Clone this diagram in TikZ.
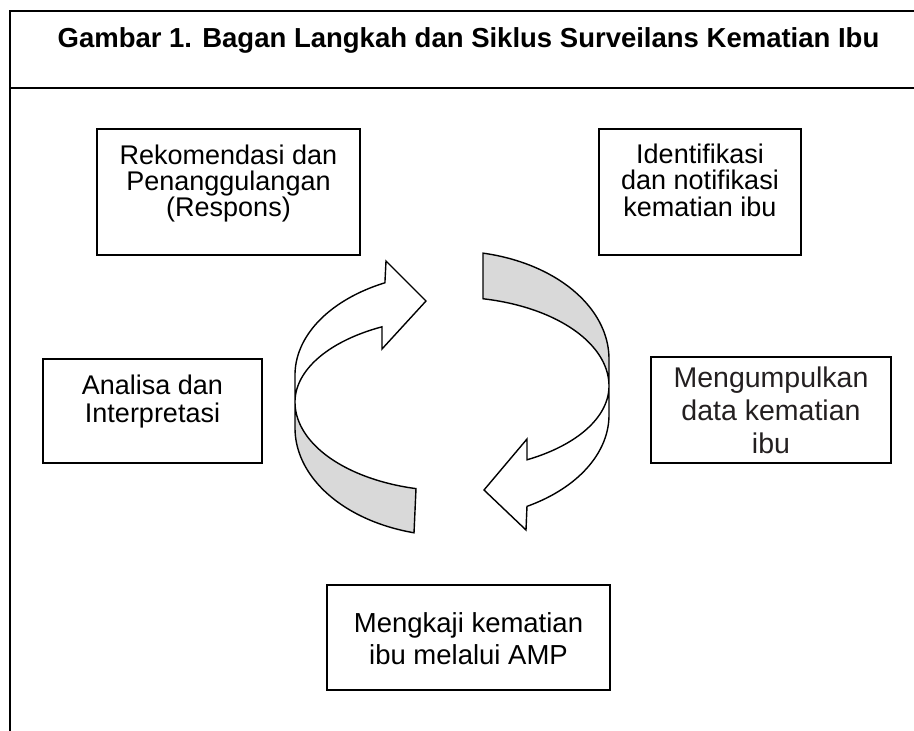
\documentclass[tikz,border=0pt]{standalone}
\usepackage{fontspec}
\setmainfont{Liberation Sans}
\definecolor{bandgray}{RGB}{217,217,217}
\definecolor{inkbrown}{RGB}{35,31,32}
\begin{document}
\begin{tikzpicture}[x=1pt,y=-1pt,
  frameline/.style={line width=2pt,black},
  stepbox/.style={draw=black,line width=2.4pt,inner sep=0pt},
  steptext/.style={align=center,inner sep=0pt},
  ribbon/.style={draw=black,line width=1.4pt,line join=miter},
  arc samples/.style={samples=50,variable=\t}
]
\useasboundingbox (0,0) rectangle (914,731);

% outer frame and title rule
\draw[frameline] (10,731) -- (10,11) -- (914,11);
\draw[frameline] (10,88) -- (914,88);
\node[anchor=base,inner sep=0pt,font={\bfseries\fontsize{27.5}{30}\selectfont}] (title) at (468.5,47)
  {Gambar 1. Bagan Langkah dan Siklus Surveilans Kematian Ibu};

% step boxes
\node[stepbox,minimum width=263pt,minimum height=126pt] (rek) at (228.5,192) {};
\node[stepbox,minimum width=202pt,minimum height=126pt] (ident) at (700,192) {};
\node[stepbox,minimum width=219pt,minimum height=104pt] (anal) at (152.5,411) {};
\node[stepbox,line width=2.8pt,minimum width=240pt,minimum height=106pt] (kumpul) at (771,410) {};
\node[stepbox,minimum width=283pt,minimum height=105pt] (kaji) at (468.5,637.5) {};

% step texts
\node[steptext,font={\fontsize{27}{26}\selectfont\lineskiplimit=-30pt}] (rekText) at (rek.center) [yshift=8pt]
  {Rekomendasi dan\\Penanggulangan\\(Respons)};
\node[steptext,font={\fontsize{27}{26.5}\selectfont\lineskiplimit=-30pt}] (identText) at (ident.center) [yshift=12pt]
  {Identifikasi\\dan notifikasi\\kematian ibu};
\node[steptext,font={\fontsize{27}{28}\selectfont\lineskiplimit=-30pt}] (analText) at (anal.center) [yshift=9pt]
  {Analisa dan\\Interpretasi};
\node[steptext,text=inkbrown,font={\fontsize{28.5}{33}\selectfont\lineskiplimit=-30pt}] (kumpulText) at (kumpul.center)
  {Mengumpulkan\\data kematian\\ibu};
\node[steptext,font={\fontsize{27.5}{32}\selectfont\lineskiplimit=-30pt}] (kajiText) at (kaji.center) [yshift=-1.5pt]
  {Mengkaji kematian\\ibu melalui AMP};

% left twisted arrow: white front band with head, grey back band
\draw[ribbon,fill=white]
  plot[arc samples,domain=244.7:180] ({452+157*cos(\t)},{375+102*sin(\t)})
  -- (295,402)
  -- plot[arc samples,domain=180:243.5] ({452+157*cos(\t)},{402+84*sin(\t)})
  -- (382,349) -- (426,301) -- (386,261) -- cycle;
\draw[ribbon,fill=bandgray]
  plot[arc samples,domain=180:103.26] ({452+157*cos(\t)},{402+89*sin(\t)})
  -- plot[arc samples,domain=104:180] ({452+157*cos(\t)},{428+108*sin(\t)})
  -- cycle;

% right twisted arrow: grey back band, white front band with head
\draw[ribbon,fill=bandgray]
  plot[arc samples,domain=281.4:360] ({452+157*cos(\t)},{359+108*sin(\t)})
  -- plot[arc samples,domain=360:281.4] ({452+157*cos(\t)},{386+89*sin(\t)})
  -- cycle;
\draw[ribbon,fill=white]
  plot[arc samples,domain=0:61.47] ({452+157*cos(\t)},{386+84*sin(\t)})
  -- (527,439) -- (484,490) -- (526,530)
  -- plot[arc samples,domain=61.47:0] ({452+157*cos(\t)},{415+104*sin(\t)})
  -- cycle;
\end{tikzpicture}
\end{document}
